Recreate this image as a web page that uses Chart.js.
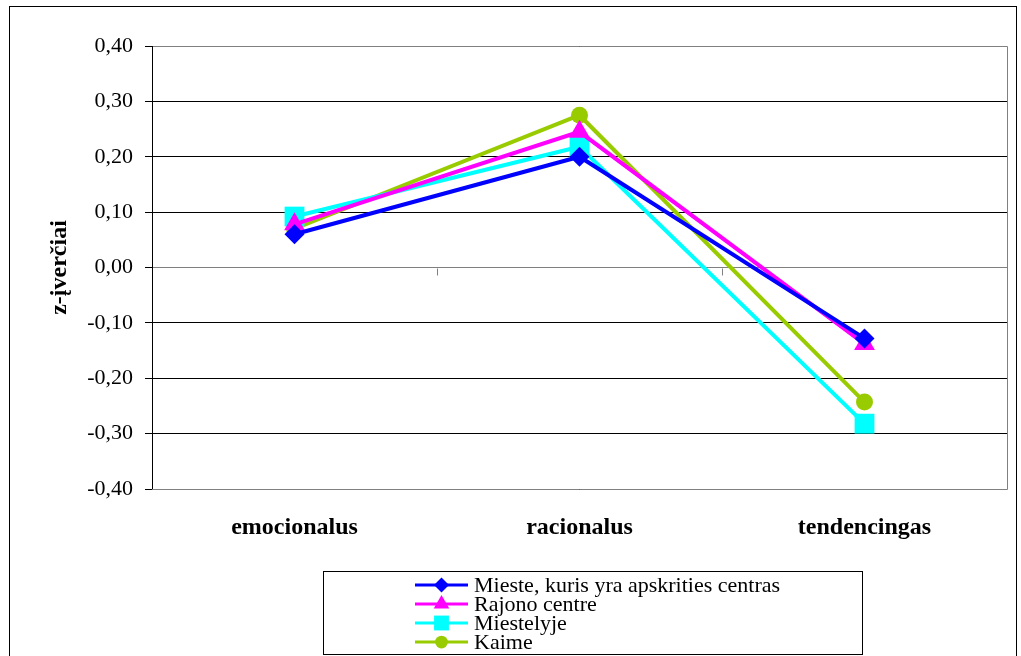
<!DOCTYPE html>
<html>
<head>
<meta charset="utf-8">
<script src="https://cdn.jsdelivr.net/npm/chart.js@4.4.0/dist/chart.umd.min.js"></script>
<style>
  html, body { margin: 0; padding: 0; background: #fff; }
  #wrap { width: 1021px; height: 656px; }
</style>
</head>
<body>
<div id="wrap"><canvas id="canvas" width="1021" height="656"></canvas></div>
<script>
// categories and series
var categories = ['emocionalus', 'racionalus', 'tendencingas'];
var seriesNames = ['Mieste, kuris yra apskrities centras', 'Rajono centre', 'Miestelyje', 'Kaime'];
var mieste = [0.06, 0.20, -0.128];
var rajono = [0.078, 0.245, -0.138];
var miestelyje = [0.092, 0.218, -0.282];
var kaime = [0.07, 0.275, -0.243];
var yTicks = [0.4, 0.3, 0.2, 0.1, 0, -0.1, -0.2, -0.3, -0.4];

var colors = ['#0000FF', '#FF00FF', '#00FFFF', '#99CC00'];
var styles = ['rectRot', 'triangle', 'rect', 'circle'];
var radii = [10, 12, 14, 8.5];
var values = [mieste, rajono, miestelyje, kaime];

var serif = "'Liberation Serif', 'Times New Roman', serif";

// outer frame, plot frame, category ticks on the zero line, legend box
var decor = {
    id: 'decor',
    beforeDraw: function (c) {
        var ctx = c.ctx;
        ctx.save();
        ctx.fillStyle = '#fff';
        ctx.fillRect(0, 0, c.width, c.height);
        ctx.strokeStyle = '#000';
        ctx.lineWidth = 1;
        ctx.strokeRect(9.5, 6.5, 1007, 700);
        ctx.restore();
    },
    beforeDatasetsDraw: function (c) {
        var ctx = c.ctx, a = c.chartArea;
        var x = c.scales.x, y = c.scales.y;
        ctx.save();
        ctx.strokeStyle = '#808080';
        ctx.lineWidth = 1;
        ctx.beginPath();
        ctx.moveTo(a.left, Math.round(a.top) + 0.5);
        ctx.lineTo(Math.round(a.right) + 0.5, Math.round(a.top) + 0.5);
        ctx.lineTo(Math.round(a.right) + 0.5, Math.round(a.bottom) + 0.5);
        ctx.lineTo(a.left, Math.round(a.bottom) + 0.5);
        ctx.stroke();
        var y0 = Math.round(y.getPixelForValue(0)) + 0.5;
        ctx.beginPath();
        for (var i = 0; i < categories.length - 1; i++) {
            var px = Math.round(x.getPixelForValue(i + 0.5)) + 0.5;
            ctx.moveTo(px, y0);
            ctx.lineTo(px, y0 + 7);
        }
        ctx.stroke();
        ctx.strokeStyle = '#000';
        ctx.beginPath();
        ctx.moveTo(Math.round(a.left) + 0.5, a.top);
        ctx.lineTo(Math.round(a.left) + 0.5, a.bottom);
        ctx.stroke();
        ctx.restore();
    },
    afterDraw: function (c) {
        var ctx = c.ctx;
        ctx.save();
        ctx.strokeStyle = '#000';
        ctx.lineWidth = 1;
        ctx.strokeRect(323.5, 571.5, 539, 83);
        ctx.font = '22px ' + serif;
        ctx.textBaseline = 'middle';
        ctx.fillStyle = '#000';
        c.data.datasets.forEach(function (ds, i) {
            var ly = 585 + i * 19;
            ctx.strokeStyle = ds.borderColor;
            ctx.lineWidth = 3;
            ctx.beginPath();
            ctx.moveTo(415, ly);
            ctx.lineTo(468, ly);
            ctx.stroke();
            ctx.fillStyle = ds.backgroundColor;
            Chart.helpers.drawPoint(ctx, {pointStyle: ds.pointStyle, radius: ds.pointRadius * 0.75, borderWidth: 0}, 441.5, ly);
            ctx.fillStyle = '#000';
            ctx.fillText(ds.label, 474, ly + 1);
        });
        ctx.restore();
    }
};

new Chart(document.getElementById('canvas').getContext('2d'), {
    type: 'line',
    data: {
        labels: categories,
        datasets: values.map(function (v, i) {
            return {
                label: seriesNames[i],
                data: v,
                borderColor: colors[i],
                backgroundColor: colors[i],
                borderWidth: 4,
                pointStyle: styles[i],
                pointRadius: radii[i],
                pointHoverRadius: radii[i],
                pointBorderWidth: 0,
                tension: 0
            };
        })
    },
    options: {
        responsive: false,
        animation: false,
        layout: { padding: { left: 0, top: 46, right: 12, bottom: 0 } },
        plugins: {
            legend: { display: false },
            tooltip: { enabled: false }
        },
        scales: {
            x: {
                offset: true,
                grid: { display: false, drawTicks: false },
                border: { display: false },
                ticks: {
                    padding: 24,
                    color: '#000',
                    font: { family: serif, size: 24, weight: 'bold' }
                },
                afterFit: function (s) { s.height = 167; }
            },
            y: {
                min: -0.4,
                max: 0.4,
                afterBuildTicks: function (s) {
                    s.ticks = yTicks.map(function (v) { return { value: v }; });
                },
                grid: {
                    color: function (ctx) { return ctx.tick && ctx.tick.value === 0 ? '#808080' : '#000'; },
                    lineWidth: 1,
                    tickLength: 7,
                    tickColor: '#000'
                },
                border: { display: true, color: '#000' },
                ticks: {
                    padding: 12,
                    color: '#000',
                    font: { family: serif, size: 22 },
                    callback: function (v) { return v.toFixed(2).replace('.', ','); }
                },
                title: {
                    display: true,
                    text: 'z-įverčiai',
                    color: '#000',
                    padding: { top: 45, bottom: 0 },
                    font: { family: serif, size: 24, weight: 'bold' }
                },
                afterFit: function (s) { s.width = 152; }
            }
        }
    },
    plugins: [decor]
});
</script>
</body>
</html>
